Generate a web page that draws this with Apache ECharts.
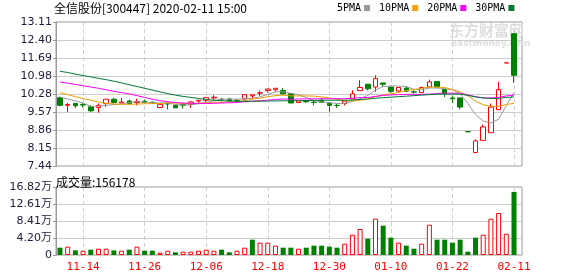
<!DOCTYPE html>
<html><head><meta charset="utf-8">
<script src="https://cdn.jsdelivr.net/npm/echarts@6/dist/echarts.min.js"></script>
<style>html,body{margin:0;padding:0;background:#fff}#c{width:578px;height:276px}</style>
</head><body><div id="c"></div>
<script>
const dates = ['11-11','11-12','11-13','11-14','11-15','11-18','11-19','11-20','11-21','11-22','11-25','11-26','11-27','11-28','11-29','12-02','12-03','12-04','12-05','12-06','12-09','12-10','12-11','12-12','12-13','12-16','12-17','12-18','12-19','12-20','12-23','12-24','12-25','12-26','12-27','12-30','12-31','01-02','01-03','01-06','01-07','01-08','01-09','01-10','01-13','01-14','01-15','01-16','01-17','01-20','01-21','01-22','01-23','02-03','02-04','02-05','02-06','02-07','02-10','02-11'];
const opens  = [10.13,9.83,9.90,9.86,9.77,9.74,9.90,10.07,9.92,10.00,9.94,9.99,9.95,9.74,9.90,9.83,9.86,9.86,10.00,10.03,10.12,10.07,10.08,10.01,10.08,10.20,10.31,10.41,10.44,10.41,10.29,9.94,10.00,9.95,10.03,9.91,9.83,9.90,10.08,10.41,10.66,10.55,10.71,10.55,10.39,10.51,10.36,10.33,10.55,10.77,10.45,10.12,10.12,8.79,7.97,8.45,8.75,9.66,11.50,12.65];
const closes = [9.83,9.86,9.81,9.84,9.61,9.83,10.07,9.94,9.96,9.90,9.98,9.95,9.90,9.87,9.88,9.73,9.83,9.96,10.03,10.13,10.15,10.06,10.00,10.00,10.25,10.24,10.32,10.47,10.50,10.28,9.92,10.01,9.97,9.94,9.95,9.83,9.82,10.00,10.28,10.53,10.48,10.88,10.66,10.38,10.53,10.39,10.35,10.53,10.75,10.55,10.29,10.09,9.76,8.79,8.43,8.98,9.76,10.45,11.50,11.01];
const lows   = [9.79,9.57,9.73,9.75,9.58,9.54,9.77,9.90,9.92,9.86,9.83,9.90,9.88,9.72,9.67,9.72,9.70,9.73,9.90,9.96,10.05,9.99,9.96,9.94,10.05,10.09,10.20,10.33,10.38,10.25,9.92,9.93,9.92,9.83,9.92,9.57,9.73,9.83,10.08,10.41,10.42,10.36,10.55,10.32,10.33,10.35,10.29,10.33,10.55,10.55,10.16,9.92,9.67,8.79,7.97,8.45,8.75,9.66,11.50,10.72];
const highs  = [10.17,9.92,9.90,9.92,9.83,9.90,10.07,10.12,10.12,10.05,10.09,10.05,9.98,9.87,9.92,9.86,9.94,9.99,10.03,10.16,10.23,10.12,10.12,10.09,10.25,10.25,10.40,10.49,10.50,10.51,10.29,10.03,10.02,10.00,10.09,9.91,9.90,10.00,10.42,10.82,10.66,11.01,10.71,10.55,10.53,10.55,10.42,10.57,10.84,10.77,10.45,10.21,10.12,8.79,8.49,9.07,9.90,10.75,11.50,12.65];
const ma5  = [10.15,10.08,10.00,9.92,9.79,9.79,9.83,9.86,9.88,9.94,9.97,9.95,9.94,9.92,9.92,9.87,9.84,9.85,9.89,9.94,10.02,10.07,10.07,10.07,10.09,10.11,10.16,10.26,10.36,10.36,10.30,10.24,10.14,10.02,9.96,9.94,9.90,9.91,9.98,10.09,10.22,10.43,10.57,10.59,10.59,10.57,10.46,10.44,10.51,10.51,10.49,10.44,10.29,9.90,9.47,9.21,9.14,9.28,9.82,10.34];
const ma10 = [10.33,10.25,10.17,10.10,10.03,9.96,9.91,9.88,9.87,9.87,9.88,9.89,9.90,9.90,9.93,9.92,9.90,9.90,9.91,9.93,9.95,9.95,9.96,9.98,10.01,10.07,10.11,10.17,10.21,10.23,10.20,10.20,10.20,10.19,10.16,10.12,10.07,10.02,10.00,10.03,10.08,10.17,10.24,10.28,10.34,10.40,10.45,10.50,10.55,10.55,10.53,10.45,10.36,10.20,9.99,9.85,9.79,9.79,9.86,9.91];
const ma20 = [10.75,10.70,10.65,10.60,10.55,10.50,10.44,10.38,10.33,10.28,10.21,10.14,10.07,10.01,9.97,9.94,9.92,9.91,9.90,9.90,9.91,9.92,9.93,9.94,9.97,9.99,10.01,10.03,10.06,10.08,10.07,10.08,10.08,10.08,10.09,10.09,10.09,10.09,10.11,10.13,10.14,10.18,10.22,10.24,10.25,10.26,10.26,10.26,10.27,10.29,10.31,10.31,10.30,10.24,10.17,10.12,10.12,10.14,10.20,10.23];
const ma30 = [11.17,11.12,11.06,11.00,10.95,10.89,10.84,10.78,10.71,10.64,10.57,10.50,10.43,10.36,10.29,10.23,10.18,10.14,10.10,10.06,10.03,10.01,10.00,9.99,9.99,9.99,9.99,10.00,10.00,10.01,10.01,10.01,10.02,10.02,10.03,10.03,10.03,10.03,10.04,10.06,10.08,10.11,10.13,10.15,10.17,10.19,10.21,10.23,10.25,10.27,10.27,10.27,10.27,10.22,10.16,10.12,10.10,10.10,10.14,10.16];
const volumes = [18100,20600,11500,10700,13200,15600,15600,11500,10700,13200,20600,10700,10700,5800,10700,6600,8200,8200,10700,13200,10700,13200,6600,10700,18100,37900,30500,30500,23100,18100,18100,15600,18100,23100,23100,20600,18100,28000,50200,64200,40400,89800,72500,42800,30500,23100,15600,28000,74900,37900,37900,30500,37900,8200,42800,50200,89800,103800,52700,156178];
const volumeUp = [0,1,0,1,0,1,1,0,1,0,1,0,0,1,1,0,1,1,1,1,1,0,0,1,1,0,1,1,1,0,0,1,0,0,0,0,0,1,1,1,0,1,0,0,1,0,0,1,1,0,0,0,0,0,0,1,1,1,1,0];
const priceTickLabels = ['7.44','8.15','8.86','9.57','10.28','10.98','11.69','12.40','13.11'];
const volTickLabels = ['0','4.20万','8.41万','12.61万','16.82万'];
const volTickStep = 42050;
const maNames = ['5PMA','10PMA','20PMA','30PMA'];
const titleText = '全信股份[300447] 2020-02-11 15:00';
const volumeTitle = '成交量:156178';

const priceTickValues = priceTickLabels.map(Number);
const pMin = priceTickValues[0], pMax = priceTickValues[priceTickValues.length-1];
const vMax = volTickStep * (volTickLabels.length - 1);
const labelIdx = (i) => i % 8 === 3;
const RED = '#ff0000', GREEN = '#008000';
const maColors = ['#999999', '#f0a000', '#ff00ff', '#007a3a'];
const maData = [ma5, ma10, ma20, ma30];

const chart = echarts.init(document.getElementById('c'), null, {renderer: 'canvas'});
const frameGrid = {show: true, borderColor: '#9a9a9a', borderWidth: 1, backgroundColor: 'transparent'};
const option = {
  animation: false,
  backgroundColor: '#ffffff',
  title: [
    {text: titleText, left: 54, top: 2, padding: 0,
     textStyle: {fontSize: 12, fontWeight: 'normal', color: '#000', fontFamily: '"Noto Sans CJK SC", sans-serif'}},
    {text: volumeTitle, left: 56, top: 176, padding: 0,
     textStyle: {fontSize: 12, fontWeight: 'normal', color: '#000', fontFamily: '"Noto Sans CJK SC", sans-serif'}}
  ],
  legend: {
    data: maNames, left: 337, top: 3, padding: 0, itemGap: 9, itemWidth: 6, itemHeight: 6,
    icon: 'rect', align: 'right', selectedMode: false,
    textStyle: {fontSize: 10, color: '#000', fontFamily: '"DejaVu Sans Mono", monospace', padding: [0, -2, 0, 0]}
  },
  graphic: [
    {type: 'text', left: 449, top: 23, z: 0, silent: true,
     style: {text: '东方财富网', fill: '#dedede', font: 'bold 15px "Noto Sans CJK SC"'}},
    {type: 'text', left: 451, top: 39, z: 0, silent: true,
     style: {text: 'eastmoney.com', fill: '#dedede', font: 'bold 9px "DejaVu Sans"'}}
  ],
  grid: [
    Object.assign({left: 56, top: 22, width: 466, height: 144}, frameGrid),
    {left: 60, top: 22, width: 454, height: 144},
    Object.assign({left: 56, top: 187, width: 466, height: 68}, frameGrid),
    {left: 60, top: 187, width: 454, height: 68}
  ],
  xAxis: [
    {type: 'value', gridIndex: 0, min: 0, max: 1, show: false},
    {type: 'category', gridIndex: 1, data: dates, boundaryGap: false,
     axisLine: {show: false}, axisTick: {show: false}, axisLabel: {show: false},
     splitLine: {show: true, interval: labelIdx, lineStyle: {color: '#cfcfcf', type: [4, 3], width: 1}}},
    {type: 'value', gridIndex: 2, min: 0, max: 1, show: false},
    {type: 'category', gridIndex: 3, data: dates, boundaryGap: false,
     axisLine: {show: false}, axisTick: {show: false},
     axisLabel: {interval: labelIdx, color: RED, fontSize: 11, margin: 7, fontFamily: '"DejaVu Sans Mono", monospace'},
     splitLine: {show: true, interval: labelIdx, lineStyle: {color: '#cfcfcf', type: [4, 3], width: 1}}}
  ],
  yAxis: [
    {type: 'value', gridIndex: 0, min: pMin, max: pMax, scale: true,
     axisLine: {show: true, lineStyle: {color: '#9a9a9a'}},
     axisTick: {show: true, length: 3, customValues: priceTickValues, lineStyle: {color: '#9a9a9a'}},
     axisLabel: {customValues: priceTickValues, margin: 4, color: '#1c1c3a', fontSize: 11,
                 fontFamily: '"DejaVu Sans", sans-serif', formatter: (v) => v.toFixed(2)},
     splitLine: {show: true, lineStyle: {color: '#cccccc', width: 1}}},
    {type: 'value', gridIndex: 1, min: pMin, max: pMax, scale: true, show: false, splitLine: {show: false}},
    {type: 'value', gridIndex: 2, min: 0, max: vMax, interval: volTickStep,
     axisLine: {show: true, lineStyle: {color: '#9a9a9a'}},
     axisTick: {show: true, length: 3, lineStyle: {color: '#9a9a9a'}},
     axisLabel: {margin: 4, color: '#1c1c3a', fontSize: 11, fontFamily: '"DejaVu Sans", "Noto Sans CJK SC", sans-serif',
                 formatter: (v) => volTickLabels[Math.round(v / volTickStep)]},
     splitLine: {show: true, lineStyle: {color: '#cccccc', width: 1}}},
    {type: 'value', gridIndex: 3, min: 0, max: vMax, show: false, splitLine: {show: false}}
  ],
  series: [
    {type: 'candlestick', name: 'K', xAxisIndex: 1, yAxisIndex: 1, barWidth: 5, clip: false,
     data: dates.map((d, i) => [opens[i], closes[i], lows[i], highs[i]]),
     itemStyle: {color: '#ffffff', color0: GREEN, borderColor: RED, borderColor0: GREEN, borderWidth: 1},
     emphasis: {disabled: true}, z: 3}
  ].concat(maNames.map((n, k) => ({
    type: 'line', name: n, xAxisIndex: 1, yAxisIndex: 1, data: maData[k], showSymbol: false, symbol: 'none',
    color: maColors[k], lineStyle: {color: maColors[k], width: 1}, clip: false, z: 4, emphasis: {disabled: true}
  }))).concat([
    {type: 'bar', name: 'VOL', xAxisIndex: 3, yAxisIndex: 3, barWidth: 5, clip: false,
     data: volumes.map((v, i) => ({value: v, itemStyle: volumeUp[i]
        ? {color: '#ffffff', borderColor: RED, borderWidth: 1}
        : {color: GREEN, borderColor: GREEN, borderWidth: 0}})),
     emphasis: {disabled: true}}
  ])
};
chart.setOption(option);
</script></body></html>
